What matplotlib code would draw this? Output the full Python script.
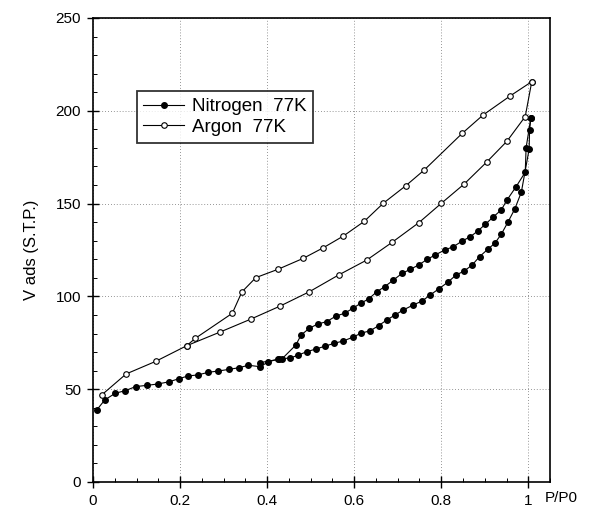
import matplotlib
matplotlib.use("Agg")
import matplotlib.pyplot as plt
from matplotlib.ticker import MultipleLocator

plt.rcParams['font.family'] = ['Liberation Sans', 'DejaVu Sans']

# Nitrogen 77K - adsorption branch (filled circles)
n2_ads_x = [0.0085, 0.027, 0.051, 0.074, 0.098, 0.125, 0.149, 0.175, 0.198, 0.218,
            0.241, 0.265, 0.288, 0.313, 0.336, 0.357, 0.384, 0.403, 0.428, 0.453,
            0.472, 0.491, 0.513, 0.532, 0.554, 0.575, 0.597, 0.615, 0.637, 0.656,
            0.675, 0.694, 0.713, 0.736, 0.756, 0.775, 0.794, 0.815, 0.834, 0.853,
            0.871, 0.888, 0.907, 0.923, 0.938, 0.953, 0.969, 0.984, 1.002, 1.003, 1.006]
n2_ads_y = [38.8, 44.2, 47.8, 49.2, 51.4, 52.1, 52.8, 54.0, 55.7, 57.1,
            57.7, 59.1, 59.8, 60.7, 61.6, 62.9, 62.1, 64.8, 66.3, 66.8,
            68.4, 70.2, 71.7, 73.1, 74.7, 76.0, 78.0, 80.1, 81.5, 84.2,
            87.3, 90.0, 92.7, 95.4, 97.5, 100.8, 104.0, 107.6, 111.5, 113.7,
            116.9, 121.4, 125.4, 128.6, 133.5, 139.9, 147.1, 156.1, 179.4, 189.7, 196.3]

# Nitrogen 77K - desorption branch (filled circles)
n2_des_x = [1.006, 0.995, 0.993, 0.972, 0.951, 0.938, 0.920, 0.901, 0.884, 0.867,
            0.848, 0.828, 0.808, 0.786, 0.768, 0.748, 0.729, 0.710, 0.690, 0.670,
            0.652, 0.633, 0.615, 0.597, 0.578, 0.558, 0.537, 0.516, 0.497, 0.478,
            0.466, 0.434, 0.426, 0.384]
n2_des_y = [196.3, 180.1, 166.9, 159.1, 151.9, 146.6, 142.9, 138.8, 135.2, 132.2,
            129.8, 126.8, 125.0, 122.3, 120.0, 116.9, 114.6, 112.4, 108.8, 105.2,
            102.5, 98.6, 96.3, 93.6, 90.9, 89.4, 86.4, 85.1, 82.8, 79.2,
            73.8, 66.3, 66.1, 64.3]

# Argon 77K - adsorption branch (open circles)
ar_ads_x = [0.020, 0.076, 0.144, 0.215, 0.292, 0.362, 0.430, 0.497, 0.564, 0.629,
            0.687, 0.749, 0.800, 0.853, 0.905, 0.951, 0.993, 1.008]
ar_ads_y = [46.9, 58.2, 65.0, 73.4, 80.8, 87.7, 94.8, 102.5, 111.5, 119.6,
            129.1, 139.8, 150.1, 160.6, 172.5, 183.6, 196.9, 215.7]

# Argon 77K - desorption branch (open circles)
ar_des_x = [1.008, 0.959, 0.896, 0.848, 0.761, 0.719, 0.667, 0.623, 0.575, 0.529,
            0.483, 0.425, 0.374, 0.342, 0.320, 0.235, 0.215]
ar_des_y = [215.7, 208.1, 197.7, 187.8, 168.1, 159.7, 150.2, 140.4, 132.5, 126.2,
            120.5, 114.6, 110.1, 102.4, 90.9, 77.4, 73.4]

legend_labels = ["Nitrogen  77K", "Argon  77K"]
x_ticks = [0, 0.2, 0.4, 0.6, 0.8, 1]
x_ticklabels = ["0", "0.2", "0.4", "0.6", "0.8", "1"]
y_ticks = [0, 50, 100, 150, 200, 250]

fig = plt.figure(figsize=(5.91, 5.08), dpi=100)
ax = fig.add_axes([0.1574, 0.0512, 0.7733, 0.9134])

lw = 0.8
ms = 4.0
ax.plot(n2_ads_x, n2_ads_y, '-', color='black', lw=lw, marker='o', ms=ms,
        mfc='black', mec='black', label=legend_labels[0])
ax.plot(n2_des_x, n2_des_y, '-', color='black', lw=lw, marker='o', ms=ms,
        mfc='black', mec='black')
ax.plot(ar_ads_x, ar_ads_y, '-', color='black', lw=lw, marker='o', ms=ms,
        mfc='white', mec='black', mew=0.8, label=legend_labels[1])
ax.plot(ar_des_x, ar_des_y, '-', color='black', lw=lw, marker='o', ms=ms,
        mfc='white', mec='black', mew=0.8)

ax.set_xlim(0, 1.05)
ax.set_ylim(0, 250)
ax.set_xticks(x_ticks)
ax.set_xticklabels(x_ticklabels)
ax.set_yticks(y_ticks)
ax.xaxis.set_minor_locator(MultipleLocator(0.05))
ax.yaxis.set_minor_locator(MultipleLocator(10))
ax.tick_params(which='major', direction='inout', length=9, width=1.0,
               labelsize=11, pad=4)
ax.tick_params(which='minor', direction='in', length=3, width=0.7)

for s in ax.spines.values():
    s.set_linewidth(1.2)

ax.grid(True, which='major', color='0.45', linestyle=(0, (1, 2.5)), linewidth=0.6)

ax.set_ylabel("V ads (S.T.P.)", fontsize=12, labelpad=12)
ax.text(0.988, -0.019, "P/P0", transform=ax.transAxes, ha='left', va='top', fontsize=11)

leg = ax.legend(loc='upper left', bbox_to_anchor=(0.075, 0.862), frameon=True,
                fancybox=False, edgecolor='black', fontsize=13.5,
                handlelength=2.2, handletextpad=0.4, borderpad=0.35,
                labelspacing=0.2, shadow=False)
leg.get_frame().set_linewidth(1.3)

fig.savefig("out.png", dpi=100)
